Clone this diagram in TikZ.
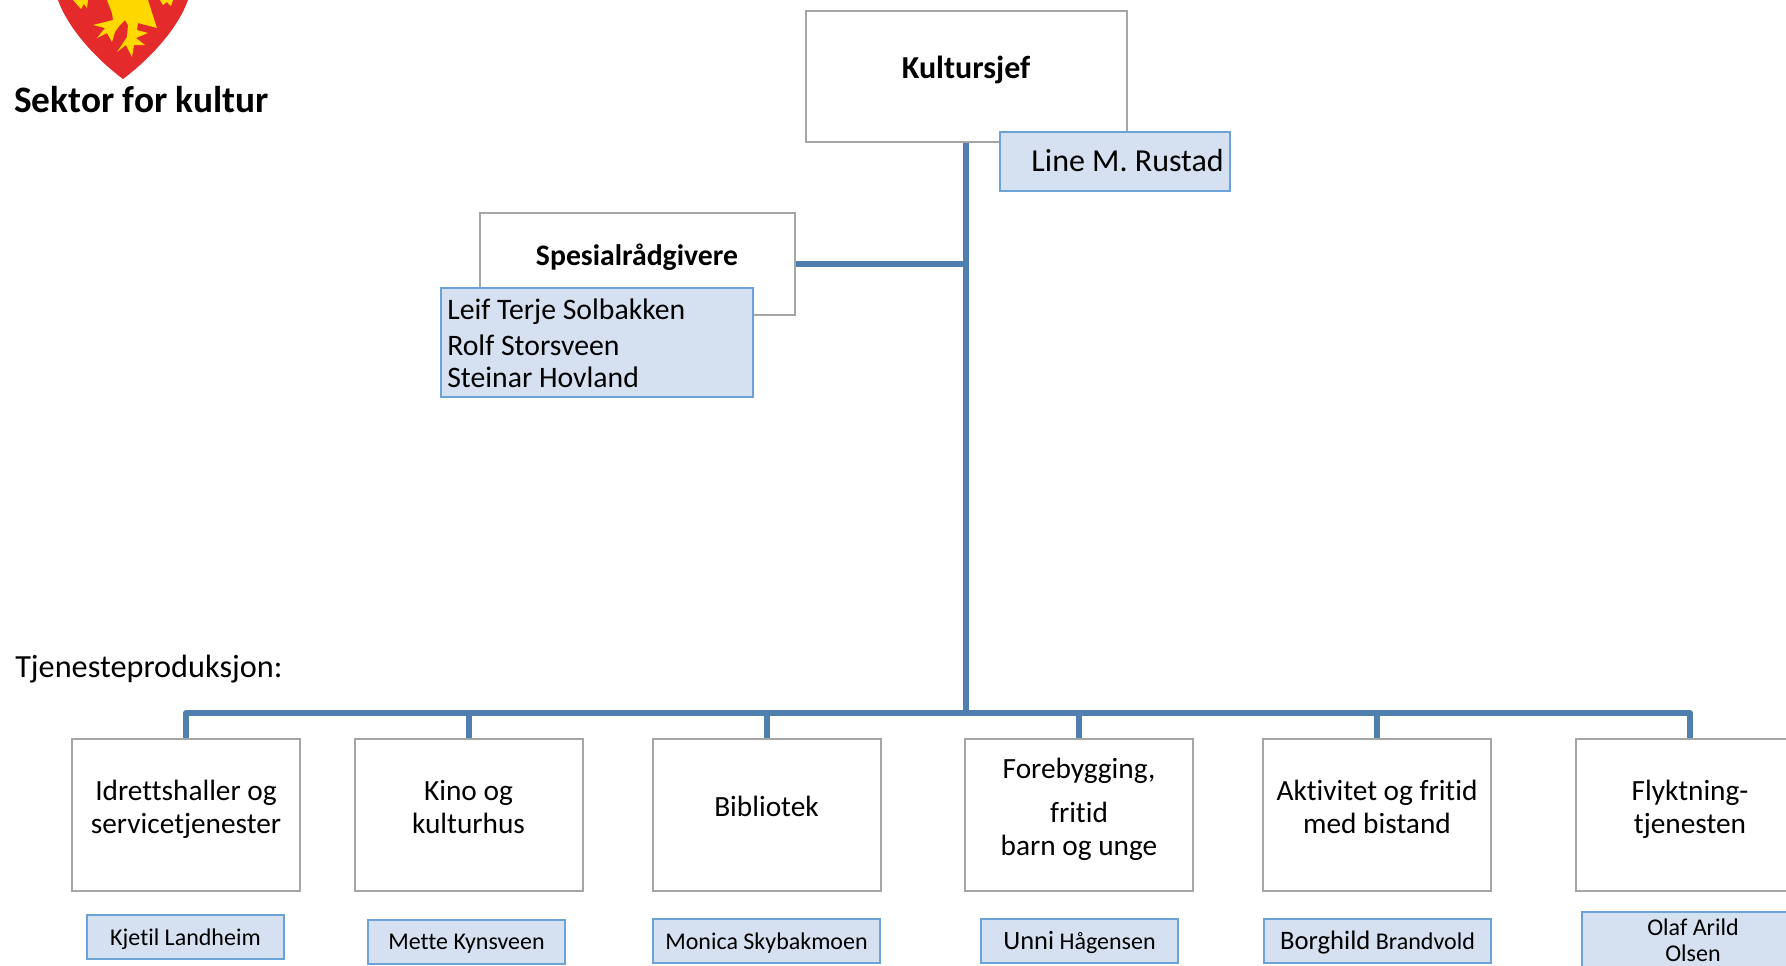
\documentclass[tikz,border=0pt]{standalone}
\usepackage{fontspec}
\setmainfont{Carlito}[Ligatures=NoCommon]
\usepackage{xcolor}
\usetikzlibrary{positioning}
\definecolor{framegray}{HTML}{A6A6A6}
\definecolor{namefill}{HTML}{D5E1F0}
\definecolor{nameline}{HTML}{6CA3D6}
\definecolor{trunkblue}{HTML}{4F7FAF}
\definecolor{shieldred}{HTML}{E42A2A}
\definecolor{shieldyellow}{HTML}{FFD800}
\tikzset{
    unitbox/.style={draw=framegray,line width=1.5pt,fill=white,minimum width=171pt,minimum height=114pt,inner sep=0pt},
    namebox/.style={draw=nameline,line width=1.5pt,fill=namefill,inner sep=0pt,align=center},
    trunk/.style={draw=trunkblue,line width=4.5pt,line join=round},
    boxtext/.style={inner sep=0pt,align=center,font=\fontsize{22}{24.75}\selectfont},
    nametext/.style={inner sep=0pt,align=center,font=\fontsize{18}{20}\selectfont},
    listtext/.style={inner sep=0pt,anchor=base west,font=\fontsize{22.3}{26}\selectfont}
}
\begin{document}
\begin{tikzpicture}[x=0.75pt,y=-0.75pt]
            \clip (0,0) rectangle (1786,965);
            % draw the shield with the eagle feet
            \fill[shieldred] (58,0) .. controls (68,28) and (95,58) .. (123,79) .. controls (151,58) and (178,28) .. (188,0) -- cycle;
            \fill[shieldyellow] (107,0) -- (112,13) -- (113,20) -- (93,25) -- (105,28) -- (97,38) -- (107,33) -- (112,42) -- (115,32) -- (120,25) -- (125,20) -- (128,25) -- (127,37) -- (117,52) -- (126,45) -- (132,57) -- (134,45) -- (145,45) -- (136,38) -- (148,33) -- (137,30) -- (138,23) -- (157,28) -- (155,22) -- (148,0) -- cycle;
            \fill[shieldyellow] (73,0) -- (81,9) -- (84,4) -- (87,8) -- (88,0) -- cycle;
            \fill[shieldyellow] (160,0) -- (163,5) -- (167,2) -- (171,6) -- (173,0) -- cycle;
            \node[inner sep=0pt,anchor=west,font=\bfseries\fontsize{28}{32}\selectfont] (sector) at (14,100) {Sektor for kultur};
            % draw the chief and the adviser boxes
            \node[unitbox,minimum width=240.75pt,minimum height=98.25pt] (chief) at (966,76.5) {};
            \node[boxtext,font=\bfseries\fontsize{24}{28}\selectfont] (chieftext) at (966,70) {Kultursjef};
            \node[namebox,minimum width=172.5pt,minimum height=44.25pt,anchor=north west] (chiefname) at (999,131) {};
            \node[inner sep=0pt,anchor=east,font=\fontsize{24}{28}\selectfont] (chiefnametext) at (1224,161) {Line M. Rustad};
            \node[unitbox,minimum width=236.25pt,minimum height=76.5pt] (advisers) at (637.5,264) {};
            \node[boxtext,font=\bfseries\fontsize{22.3}{26}\selectfont] (adviserstext) at (637,257) {Spesialrådgivere};
            \node[namebox,minimum width=234pt,minimum height=81.75pt,anchor=north west] (advisernames) at (440,287) {};
            \node[listtext] (leif) at (447,319) {Leif Terje Solbakken};
            \node[listtext] (rolf) at (447,355) {Rolf Storsveen};
            \node[listtext] (steinar) at (447,387) {Steinar Hovland};
            % draw the service boxes and their texts
            \foreach \unit/\x/\y/\txt in {idrett/186/809/{Idrettshaller og\\servicetjenester},
                kino/468.5/807/{Kino og\\kulturhus},
                bibliotek/766.5/806/{Bibliotek},
                aktivitet/1377/807/{Aktivitet og fritid\\med bistand},
                flyktning/1690/809/{Flyktning-\\tjenesten}}
            {
                \node[unitbox] (\unit) at (\x,815) {};
                \node[boxtext] (\unit text) at (\x,\y) {\txt};
            }
            \node[unitbox] (forebygging) at (1079,815) {};
            \node[boxtext] (forebyggingtext) at (1079,809) {Forebygging,\\[8pt]fritid\\barn og unge};
            % draw the leader boxes below the service boxes
            \foreach \leader/\x/\y/\w/\h/\txt in {kjetil/185.5/937/147.75/33/{Kjetil Landheim},
                mette/466.5/942/147.75/33/{Mette Kynsveen},
                monica/766.5/941/170.25/33/{Monica Skybakmoen},
                unni/1079.5/940.5/147.75/33/{{\fontsize{19.8}{20}\selectfont Unni} {\fontsize{18}{20}\selectfont Hågensen}},
                borghild/1377.5/941/170.25/33/{{\fontsize{20}{20}\selectfont Borghild} {\fontsize{18}{20}\selectfont Brandvold}}}
            {
                \node[namebox,minimum width=\w pt,minimum height=\h pt] (\leader) at (\x,\y) {};
                \node[nametext] (\leader text) at (\x,\y+2) {\txt};
            }
            \node[namebox,minimum width=166.5pt,minimum height=60pt,anchor=north west] (olaf) at (1581,911) {};
            \node[nametext,font=\fontsize{18}{19}\selectfont,anchor=north] (olaftext) at (1693,919) {Olaf Arild\\Olsen};
            \node[inner sep=0pt,anchor=west,font=\fontsize{24.2}{28}\selectfont] (services) at (15,669) {Tjenesteproduksjon:};
            % draw the trunk and the bus towards the service boxes
            \coordinate (busjoin) at (966,713);
            \coordinate (adviserjoin) at (966,264);
            \draw[trunk] (chief.south) -- (busjoin);
            \draw[trunk] (advisers.east) -- (adviserjoin);
            \foreach \unit in {idrett,kino,bibliotek,forebygging,aktivitet,flyktning}
            {
                \draw[trunk] (\unit.north) |- (busjoin);
            }
        \end{tikzpicture}
\end{document}
